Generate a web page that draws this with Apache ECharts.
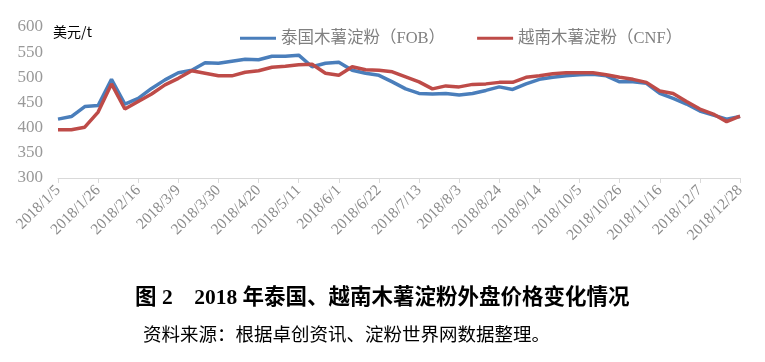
<!DOCTYPE html>
<html>
<head>
<meta charset="utf-8">
<script src="https://cdn.jsdelivr.net/npm/echarts@6/dist/echarts.min.js"></script>
<style>html,body{margin:0;padding:0;background:#fff;}#c{width:765px;height:362px;}</style>
</head>
<body>
<div id="c"></div>
<script>
var categories = ["2018/1/5","2018/1/12","2018/1/19","2018/1/26","2018/2/2","2018/2/9","2018/2/16","2018/2/23","2018/3/2","2018/3/9","2018/3/16","2018/3/23","2018/3/30","2018/4/6","2018/4/13","2018/4/20","2018/4/27","2018/5/4","2018/5/11","2018/5/18","2018/5/25","2018/6/1","2018/6/8","2018/6/15","2018/6/22","2018/6/29","2018/7/6","2018/7/13","2018/7/20","2018/7/27","2018/8/3","2018/8/10","2018/8/17","2018/8/24","2018/8/31","2018/9/7","2018/9/14","2018/9/21","2018/9/28","2018/10/5","2018/10/12","2018/10/19","2018/10/26","2018/11/2","2018/11/9","2018/11/16","2018/11/23","2018/11/30","2018/12/7","2018/12/14","2018/12/21","2018/12/28"];
var thaiFOB = [417,422,442,444,496,447,458,478,495,509,514,529,528,532,536,535,542,542,544,521,528,530,514,508,504,491,477,468,467,468,465,468,474,481,476,487,496,500,503,505,506,503,491,491,488,468,458,447,433,425,417,422];
var vietCNF = [396,396,401,431,487,437,452,467,485,498,513,508,503,503,510,513,520,522,525,526,508,504,521,515,514,511,501,491,477,483,481,486,487,490,490,500,503,507,509,509,509,505,500,496,490,473,468,452,437,427,412,423];
var seriesNames = ["泰国木薯淀粉（FOB）","越南木薯淀粉（CNF）"];
var yTicks = {min:300, max:600, interval:50};
var unitLabel = "美元/t";
var titleText = "图 2\u30002018 年泰国、越南木薯淀粉外盘价格变化情况";
var sourceText = "资料来源：根据卓创资讯、淀粉世界网数据整理。";

var serif = "'Liberation Serif','Noto Sans CJK SC',serif";
var chart = echarts.init(document.getElementById('c'));
chart.setOption({
  animation:false,
  backgroundColor:'#fff',
  grid:{left:58,right:25,top:27,bottom:184,containLabel:false},
  legend:{
    left:235, top:25, itemWidth:36, itemHeight:3, itemGap:32, icon:'rect',
    textStyle:{color:'#808080', fontSize:16.5, fontFamily:serif},
    data:seriesNames
  },
  xAxis:{
    type:'category', data:categories, boundaryGap:false,
    axisLine:{lineStyle:{color:'#d9d9d9', width:1}},
    axisTick:{show:true, interval:2, length:5, lineStyle:{color:'#d9d9d9'}},
    axisLabel:{interval:2, rotate:45, color:'#8c8c8c', fontSize:15.5, fontFamily:serif, margin:10}
  },
  yAxis:{
    type:'value', min:yTicks.min, max:yTicks.max, interval:yTicks.interval,
    axisLine:{show:false}, axisTick:{show:false}, splitLine:{show:false},
    axisLabel:{color:'#999999', fontSize:17, fontFamily:serif, margin:15}
  },
  series:[
    {name:seriesNames[0], type:'line', data:thaiFOB, symbol:'none', lineStyle:{color:'#4a7ebb', width:3.5}, itemStyle:{color:'#4a7ebb'}},
    {name:seriesNames[1], type:'line', data:vietCNF, symbol:'none', lineStyle:{color:'#be4b48', width:3.5}, itemStyle:{color:'#be4b48'}}
  ],
  graphic:[
    {type:'text', left:53, top:25, style:{text:unitLabel, fill:'#000', font:"14px 'Noto Sans CJK SC', sans-serif"}},
    {type:'text', left:135, top:288, style:{text:titleText, fill:'#000', font:"bold 21.5px 'Liberation Serif','Noto Sans CJK SC', serif"}},
    {type:'text', left:143, top:327, style:{text:sourceText, fill:'#000', font:"18.5px 'Liberation Serif','Noto Sans CJK SC', serif"}}
  ]
});
</script>
</body>
</html>
